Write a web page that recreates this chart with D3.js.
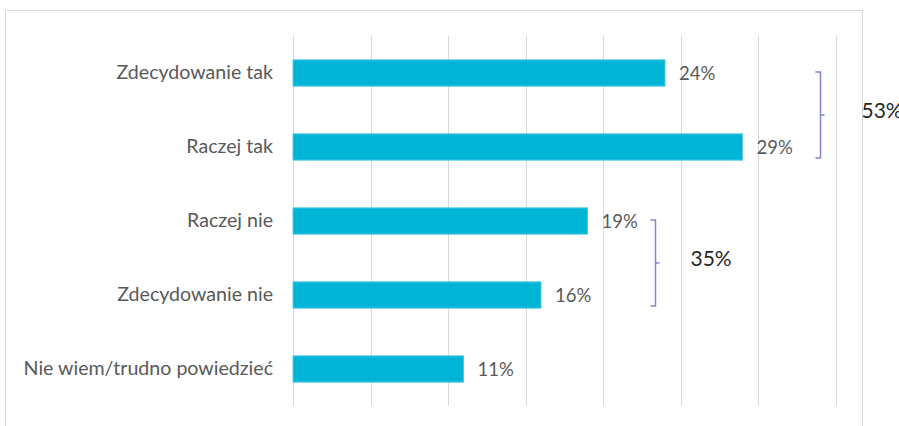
<!DOCTYPE html>
<html>
<head>
<meta charset="utf-8">
<script src="https://cdn.jsdelivr.net/npm/d3@7"></script>
<style>
  html, body { margin: 0; padding: 0; background: #fff; }
  svg { display: block; }
  text { font-family: Lato, "Open Sans", sans-serif; }
</style>
</head>
<body>
<svg id="chart" width="899" height="426"></svg>
<script>
// Survey answers and their shares (%)
const categories = ["Zdecydowanie tak", "Raczej tak", "Raczej nie", "Zdecydowanie nie", "Nie wiem/trudno powiedzieć"];
const values = [24, 29, 19, 16, 11];
const gridTicks = [0, 5, 10, 15, 20, 25, 30, 35];

// Summary braces: first and last answer of each group, and the group total
const groupStart = [0, 2];
const groupEnd = [1, 3];
const groupTotals = [53, 35];

const svg = d3.select("#chart");

const plotLeft = 293, plotTop = 36, plotBottom = 406;

const x = d3.scaleLinear().domain([0, 35]).range([plotLeft, plotLeft + 35 * 15.5]);
const y = d3.scaleBand().domain(categories).range([plotTop, plotBottom]).paddingInner(0.645).paddingOuter(0.3225);

// outer frame
svg.append("rect")
  .attr("x", 5.5).attr("y", 10.5)
  .attr("width", 857).attr("height", 430)
  .attr("fill", "none").attr("stroke", "#d9d9d9").attr("stroke-width", 1);

// vertical gridlines
svg.append("g")
  .selectAll("line")
  .data(gridTicks)
  .join("line")
  .attr("x1", d => Math.round(x(d)) + 0.5)
  .attr("x2", d => Math.round(x(d)) + 0.5)
  .attr("y1", plotTop).attr("y2", plotBottom)
  .attr("stroke", "#d9d9d9").attr("stroke-width", 1);

// category axis labels
const yAxis = d3.axisLeft(y).tickSize(0).tickPadding(20);
const ga = svg.append("g").attr("transform", `translate(${plotLeft},0)`).call(yAxis);
ga.select(".domain").remove();
ga.selectAll("text")
  .attr("fill", "#595959")
  .style("font-family", "Lato, 'Open Sans', sans-serif")
  .style("font-size", "19.6px");

// bars
svg.append("g")
  .selectAll("rect")
  .data(values)
  .join("rect")
  .attr("x", x(0))
  .attr("y", (d, i) => y(categories[i]))
  .attr("width", d => x(d) - x(0))
  .attr("height", y.bandwidth())
  .attr("fill", "#00b4d6")
  .attr("stroke", "#4fcbe6")
  .attr("stroke-width", 1);

// value labels
svg.append("g")
  .selectAll("text")
  .data(values)
  .join("text")
  .attr("x", d => x(d) + 14)
  .attr("y", (d, i) => y(categories[i]) + y.bandwidth() / 2 + 1)
  .attr("dy", "0.35em")
  .attr("fill", "#595959")
  .style("font-size", "18.5px")
  .text(d => d + "%");

// braces with group totals
const braceOffset = [77.5, 67.5];
const labelGap = [41, 35];
groupTotals.forEach((total, i) => {
  const members = d3.range(groupStart[i], groupEnd[i] + 1);
  const bx = Math.round(x(d3.max(members, k => values[k])) + braceOffset[i]) + 0.5;
  const top = y(categories[groupStart[i]]) + y.bandwidth() / 2 - 1;
  const bot = y(categories[groupEnd[i]]) + y.bandwidth() / 2 + 11;
  const mid = (top + bot) / 2;
  const path = d3.path();
  path.moveTo(bx - 5, top);
  path.lineTo(bx, top);
  path.lineTo(bx, bot);
  path.lineTo(bx - 5, bot);
  path.moveTo(bx, mid);
  path.lineTo(bx + 4, mid);
  svg.append("path")
    .attr("d", path.toString())
    .attr("fill", "none")
    .attr("stroke", "#8385cc")
    .attr("stroke-width", 1.5);
  svg.append("text")
    .attr("x", bx + labelGap[i])
    .attr("y", mid - 4)
    .attr("dy", "0.35em")
    .attr("fill", "#262626")
    .style("font-size", "21px")
    .text(total + "%");
});
</script>
</body>
</html>
